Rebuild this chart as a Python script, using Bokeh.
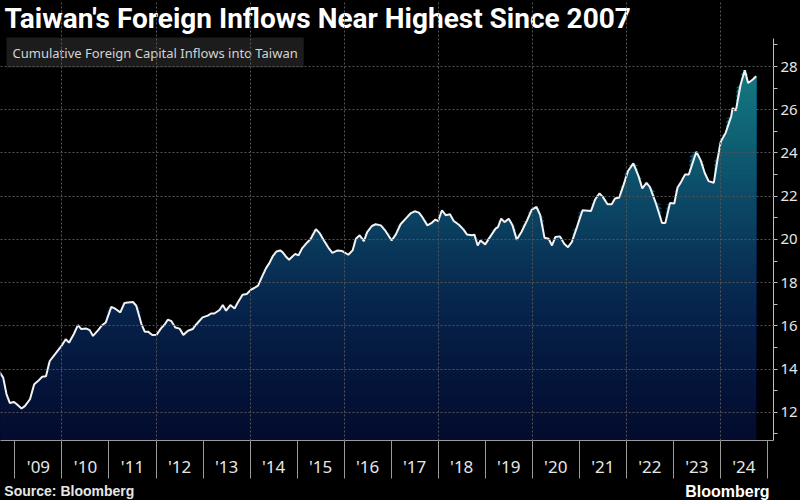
import numpy as np
from bokeh.plotting import figure
from bokeh.layouts import column
from bokeh.models import FixedTicker, Label, Range1d, GlobalInlineStyleSheet
from bokeh.embed import file_html
from bokeh.resources import INLINE

# ---- data ----
dates = [2008.60, 2008.68, 2008.75, 2008.82, 2008.89, 2008.98, 2009.04, 2009.14, 2009.21, 2009.32,
         2009.41, 2009.49, 2009.58, 2009.66, 2009.74, 2009.85, 2009.99, 2010.08, 2010.15, 2010.25,
         2010.34, 2010.41, 2010.52, 2010.59, 2010.66, 2010.77, 2010.84, 2010.93, 2011.05, 2011.14,
         2011.24, 2011.33, 2011.40, 2011.51, 2011.58, 2011.69, 2011.76, 2011.83, 2011.92, 2012.01,
         2012.11, 2012.18, 2012.25, 2012.32, 2012.41, 2012.50, 2012.58, 2012.68, 2012.78, 2012.85,
         2012.99, 2013.10, 2013.17, 2013.24, 2013.35, 2013.42, 2013.49, 2013.58, 2013.67, 2013.74,
         2013.84, 2013.93, 2014.02, 2014.09, 2014.17, 2014.25, 2014.34, 2014.41, 2014.48, 2014.56,
         2014.64, 2014.69, 2014.76, 2014.83, 2014.90, 2014.96, 2015.03, 2015.11, 2015.22, 2015.29,
         2015.40, 2015.48, 2015.57, 2015.68, 2015.75, 2015.86, 2015.96, 2016.09, 2016.18, 2016.25,
         2016.33, 2016.42, 2016.49, 2016.59, 2016.67, 2016.78, 2016.88, 2017.01, 2017.10, 2017.20,
         2017.31, 2017.41, 2017.50, 2017.59, 2017.66, 2017.77, 2017.87, 2017.94, 2018.00, 2018.08,
         2018.16, 2018.25, 2018.33, 2018.44, 2018.54, 2018.61, 2018.72, 2018.77, 2018.84, 2018.90,
         2019.00, 2019.11, 2019.22, 2019.27, 2019.34, 2019.41, 2019.50, 2019.58, 2019.67, 2019.77,
         2019.89, 2019.99, 2020.09, 2020.17, 2020.26, 2020.35, 2020.42, 2020.49, 2020.59, 2020.68,
         2020.76, 2020.84, 2020.95, 2021.07, 2021.25, 2021.34, 2021.43, 2021.50, 2021.60, 2021.69,
         2021.76, 2021.85, 2021.94, 2022.04, 2022.15, 2022.26, 2022.34, 2022.43, 2022.50, 2022.62,
         2022.76, 2022.83, 2022.93, 2023.02, 2023.09, 2023.16, 2023.25, 2023.33, 2023.49, 2023.58,
         2023.67, 2023.75, 2023.86, 2023.95, 2024.01, 2024.11, 2024.23, 2024.26, 2024.33, 2024.43,
         2024.52, 2024.59, 2024.69, 2024.76]

inflows = [14.10, 13.83, 13.60, 12.84, 12.43, 12.47, 12.37, 12.17, 12.28, 12.60,
           13.29, 13.44, 13.64, 13.66, 14.37, 14.68, 15.07, 15.38, 15.22, 15.61,
           16.03, 15.85, 15.87, 15.80, 15.53, 15.80, 16.00, 16.15, 16.88, 16.78,
           16.62, 17.06, 17.08, 17.10, 16.93, 16.08, 15.73, 15.73, 15.57, 15.58,
           15.89, 16.05, 16.28, 16.23, 15.92, 15.87, 15.58, 15.77, 15.85, 16.05,
           16.39, 16.47, 16.57, 16.57, 16.73, 16.96, 16.70, 16.96, 16.80, 17.08,
           17.44, 17.47, 17.67, 17.75, 17.86, 18.25, 18.67, 18.90, 19.21, 19.44,
           19.49, 19.41, 19.21, 19.06, 19.21, 19.33, 19.26, 19.60, 19.87, 20.03,
           20.47, 20.29, 19.95, 19.57, 19.38, 19.49, 19.46, 19.29, 19.49, 20.03,
           20.19, 19.92, 20.34, 20.62, 20.70, 20.65, 20.39, 19.95, 20.23, 20.70,
           20.96, 21.20, 21.30, 21.24, 21.04, 20.65, 20.78, 20.92, 20.85, 21.35,
           21.12, 21.16, 20.85, 20.68, 20.45, 20.23, 20.19, 20.22, 19.72, 19.95,
           19.77, 20.14, 20.50, 20.57, 20.96, 20.80, 20.96, 20.65, 19.99, 20.34,
           20.88, 21.38, 21.50, 21.12, 20.08, 20.03, 19.72, 20.11, 20.14, 19.80,
           19.64, 19.87, 20.57, 21.35, 21.32, 21.86, 22.13, 21.97, 21.63, 21.63,
           21.89, 21.94, 22.51, 23.18, 23.52, 22.93, 22.36, 22.62, 22.43, 21.73,
           20.76, 20.76, 21.69, 21.66, 22.40, 22.64, 23.01, 23.01, 24.06, 23.67,
           23.06, 22.70, 22.62, 23.83, 24.53, 24.92, 25.69, 26.08, 25.97, 27.16,
           27.83, 27.24, 27.40, 27.55]

label_years = list(range(2009, 2025))
year_labels = ["'09", "'10", "'11", "'12", "'13", "'14", "'15", "'16",
               "'17", "'18", "'19", "'20", "'21", "'22", "'23", "'24"]
y_major = [12, 14, 16, 18, 20, 22, 24, 26, 28]
y_minor = [11, 13, 15, 17, 19, 21, 23, 25, 27, 29]
y_axis_span = (10.69, 29.30)

title_text = "Taiwan's Foreign Inflows Near Highest Since 2007"
legend_text = "Cumulative Foreign Capital Inflows into Taiwan"
source_text = "Source: Bloomberg"
logo_text = "Bloomberg"

FONT = "Noto Sans"
BG = "#000000"

# ---- main figure (frame reaches the top so the title sits inside it) ----
p = figure(width=800, height=480, output_backend="svg", toolbar_location=None, title=None,
           x_range=Range1d(2008.693, 2025.13), y_range=Range1d(10.69, 31.06),
           y_axis_location="right",
           background_fill_color=BG, border_fill_color=BG,
           min_border_left=0, min_border_right=24, min_border_top=0, min_border_bottom=40)
p.outline_line_color = None
p.stylesheets = [GlobalInlineStyleSheet(css="body { margin: 0; background: #000; }")]

# gradient fill made of stacked bands
vals = np.array(inflows)
xs = np.array(dates)
stop_v = [10.0, 13.0, 16.0, 19.0, 22.0, 25.0, 28.5]
stop_rgb = [(3, 9, 43), (4, 19, 56), (6, 31, 71), (9, 51, 87),
            (12, 74, 104), (15, 100, 117), (21, 125, 132)]


def grad_color(v):
    r = np.interp(v, stop_v, [c[0] for c in stop_rgb])
    g = np.interp(v, stop_v, [c[1] for c in stop_rgb])
    b = np.interp(v, stop_v, [c[2] for c in stop_rgb])
    return "#%02x%02x%02x" % (int(round(r)), int(round(g)), int(round(b)))


step = 0.2
for b in np.arange(10.0, 28.0, step):
    p.varea(x=xs, y1=np.full(len(xs), b), y2=np.maximum(vals, b),
            fill_color=grad_color(b + step / 2), fill_alpha=1.0)

p.line(xs, vals, line_color="#f2f2f2", line_width=2)

# ---- axes ----
mid_years = [y + 0.5 for y in label_years]
p.xaxis.ticker = FixedTicker(ticks=mid_years, minor_ticks=list(range(2009, 2026)))
p.xaxis.major_label_overrides = {m: lab for m, lab in zip(mid_years, year_labels)}
p.xaxis.major_tick_out = 0
p.xaxis.major_tick_in = 0
p.xaxis.minor_tick_out = 38
p.xaxis.minor_tick_in = 0
p.xaxis.major_label_standoff = -24
p.xaxis.major_label_text_font = FONT
p.xaxis.major_label_text_font_size = "17px"
p.xaxis.major_label_text_color = "#e6e6e6"
p.xaxis.axis_line_color = "#9a9a9a"
p.xaxis.minor_tick_line_color = "#9a9a9a"

p.yaxis.ticker = FixedTicker(ticks=y_major, minor_ticks=y_minor)
p.yaxis.bounds = y_axis_span
p.yaxis.major_tick_out = 4
p.yaxis.major_tick_in = 0
p.yaxis.minor_tick_out = 4
p.yaxis.minor_tick_in = 0
p.yaxis.major_label_standoff = 3
p.yaxis.major_label_text_font = FONT
p.yaxis.major_label_text_font_size = "15px"
p.yaxis.major_label_text_color = "#e6e6e6"
p.yaxis.axis_line_color = "#bdbdbd"
p.yaxis.major_tick_line_color = "#bdbdbd"
p.yaxis.minor_tick_line_color = "#bdbdbd"

# ---- grid (drawn over the fill, like the reference) ----
p.xgrid.ticker = FixedTicker(ticks=list(range(2010, 2025, 2)))
p.xgrid.bounds = y_axis_span
p.ygrid.ticker = FixedTicker(ticks=y_major)
for g in (p.xgrid, p.ygrid):
    g.grid_line_color = "#555555"
    g.grid_line_dash = "2 2"
    g.grid_line_width = 1
    g.level = "overlay"

# ---- texts inside the frame (screen units from the frame's bottom-left) ----
p.add_layout(Label(x=4, y=422, x_units="screen", y_units="screen", text=title_text,
                   text_font="Roboto", text_font_style="bold", text_font_size="28px",
                   text_color="#ffffff", text_baseline="middle"))
p.add_layout(Label(x=6, y=388, x_units="screen", y_units="screen", text=legend_text,
                   text_font=FONT, text_font_size="13px", text_color="#d4d4d4",
                   text_baseline="middle", background_fill_color="#1c1c1c",
                   padding=6))

# ---- footer strip ----
foot = figure(width=800, height=20, output_backend="svg", toolbar_location=None, title=None,
              x_range=Range1d(0, 800), y_range=Range1d(0, 20),
              x_axis_location=None, y_axis_location=None,
              background_fill_color=BG, border_fill_color=BG, min_border=0)
foot.outline_line_color = None
foot.grid.visible = False
foot.add_layout(Label(x=4, y=10, text=source_text, text_font="Liberation Sans",
                      text_font_style="bold", text_font_size="14px", text_color="#e6e6e6",
                      text_baseline="alphabetic"))
foot.add_layout(Label(x=796, y=9.5, text=logo_text, text_font="Liberation Sans",
                      text_font_style="bold", text_font_size="16px", text_color="#ffffff",
                      text_baseline="alphabetic", text_align="right"))

layout = column(p, foot, spacing=0)
open("out.html", "w").write(file_html(layout, INLINE))
